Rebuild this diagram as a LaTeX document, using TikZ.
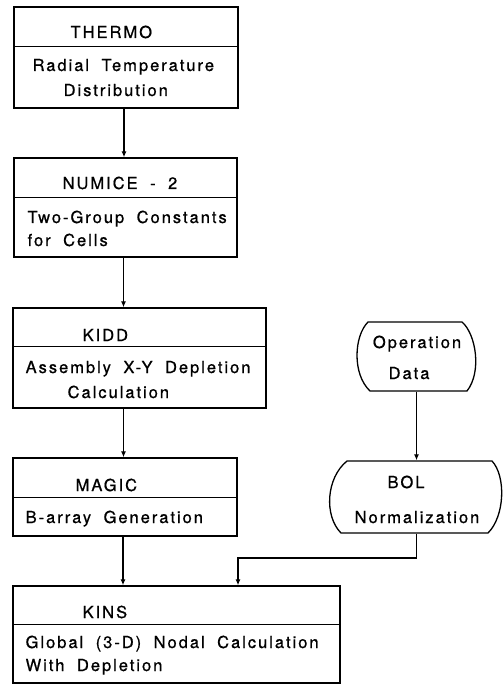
\documentclass[tikz,border=0pt]{standalone}
\usepackage{fontspec}
\newfontfamily\lett[LetterSpace=12,WordSpace=1.9,FakeBold=0.8]{TeX Gyre Heros}
\usetikzlibrary{arrows.meta,calc}
\begin{document}
\begin{tikzpicture}[x=1pt,y=-1pt,
  line width=1.3pt,
  boxnode/.style={draw,rectangle,inner sep=0pt},
  shapenode/.style={inner sep=0pt},
  lbl/.style={font=\lett\fontsize{16.5}{19}\selectfont,inner sep=0pt,anchor=base west},
  clbl/.style={font=\lett\fontsize{16.5}{19}\selectfont,inner sep=0pt,anchor=base},
  arr/.style={-{Latex[length=6pt,width=5pt]}}]
\useasboundingbox (0,0) rectangle (503,684);

% rectangular boxes
\node[boxnode,minimum width=224pt,minimum height=101pt] (thermo) at (126,57.5) {};
\node[boxnode,minimum width=223pt,minimum height=99pt] (numice) at (125.5,207.5) {};
\node[boxnode,minimum width=253pt,minimum height=100pt] (kidd) at (139.5,358) {};
\node[boxnode,minimum width=224pt,minimum height=78pt] (magic) at (125,497) {};
\node[boxnode,minimum width=327pt,minimum height=97pt] (kins) at (176.5,634.5) {};

% dividers
\draw ([yshift=-40pt]thermo.north west) -- ([yshift=-40pt]thermo.north east);
\draw ([yshift=-40pt]numice.north west) -- ([yshift=-40pt]numice.north east);
\draw ([yshift=-39pt]kidd.north west) -- ([yshift=-39pt]kidd.north east);
\draw ([yshift=-40pt]magic.north west) -- ([yshift=-40pt]magic.north east);
\draw ([yshift=-39pt]kins.north west) -- ([yshift=-39pt]kins.north east);

% rounded-side shapes
\node[shapenode,minimum width=123pt,minimum height=69pt] (opdata) at (416.5,356.5) {};
\draw (368,322) -- (462,322)
  .. controls (476,334) and (482,372) .. (467,391) -- (370,391)
  .. controls (352,374) and (354,336) .. cycle;
\node[shapenode,minimum width=174pt,minimum height=72pt] (bol) at (416.5,497) {};
\draw (347,461) -- (492,461)
  .. controls (506,476) and (505,516) .. (488,533) -- (341,533)
  .. controls (324,516) and (326,478) .. cycle;

% texts
\node[lbl] (t1) at (70,38) {THERMO};
\node[lbl] (t2) at (32,71) {Radial Temperature};
\node[lbl] (t3) at (63,96) {Distribution};
\node[lbl] (n1) at (62,189) {NUMICE - 2};
\node[lbl] (n2) at (27,223) {Two-Group Constants};
\node[lbl] (n3) at (27,246) {for Cells};
\node[lbl] (k1) at (82,341) {KIDD};
\node[lbl] (k2) at (25,373) {Assembly X-Y Depletion};
\node[lbl] (k3) at (67,398) {Calculation};
\node[lbl] (m1) at (75,491) {MAGIC};
\node[lbl] (m2) at (25,523) {B-array Generation};
\node[lbl] (s1) at (82,618) {KINS};
\node[lbl] (s2) at (25,648) {Global (3-D) Nodal Calculation};
\node[lbl] (s3) at (25,671) {With Depletion};
\node[clbl] (o1) at (417,348) {Operation};
\node[clbl] (o2) at (409,379) {Data};
\node[clbl] (b1) at (406,488) {BOL};
\node[clbl] (b2) at (417,523) {Normalization};

% connectors
\draw[arr] ([xshift=-2pt]thermo.south) -- ([xshift=-2pt]thermo.south |- numice.north);
\draw[arr] ([xshift=-2pt]numice.south) -- ([xshift=-2pt]numice.south |- kidd.north);
\draw[arr] ([xshift=-2pt]numice.south |- kidd.south) -- ([xshift=-2pt]numice.south |- magic.north);
\draw[arr] ([xshift=-2pt]magic.south) -- ([xshift=-2pt]magic.south |- kins.north);
\draw[arr] (opdata.south) -- (opdata.south |- bol.north);
\coordinate (elbow) at (238,558);
\draw[arr] (bol.south) |- (elbow) -- (elbow |- kins.north);
\end{tikzpicture}
\end{document}
